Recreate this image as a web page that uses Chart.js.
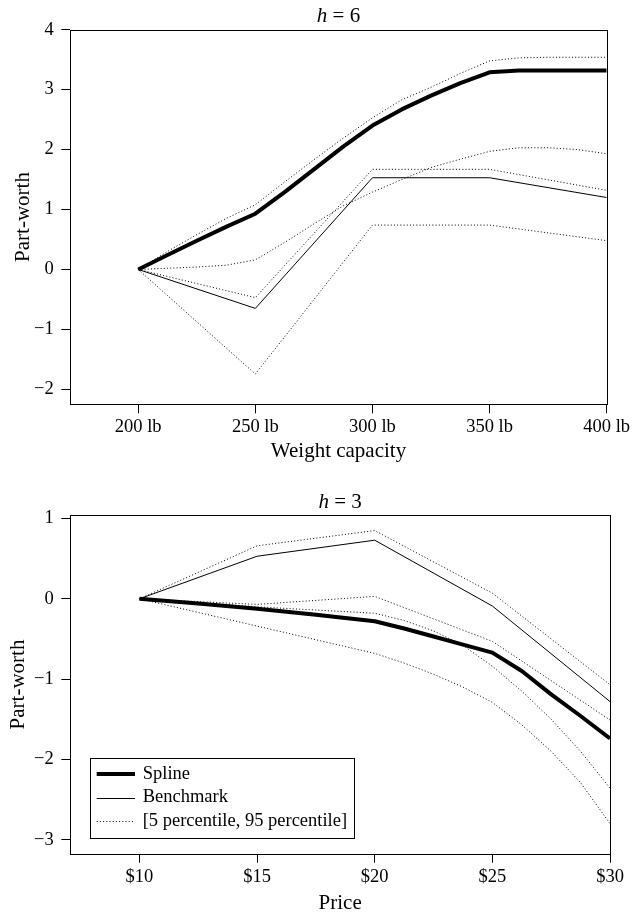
<!DOCTYPE html>
<html><head><meta charset="utf-8">
<script src="https://cdn.jsdelivr.net/npm/chart.js@4.4.1/dist/chart.umd.min.js"></script>
<style>
html,body{margin:0;padding:0;background:#fff;overflow:hidden;width:640px;height:913px;}
.box{position:absolute;left:0;width:640px;height:480px;}
#w1{top:0;}
#w2{top:440px;}
</style></head><body>
<div class="box" id="w1"><canvas id="c1"></canvas></div>
<div class="box" id="w2"><canvas id="c2"></canvas></div>
<script>
// ---------- data: top panel (h = 6, weight capacity) ----------
const weightTicks = [200, 250, 300, 350, 400];
const weightYTicks = [-2, -1, 0, 1, 2, 3, 4];
const weightGrid = [200, 212.5, 225, 237.5, 250, 262.5, 275, 287.5, 300, 312.5, 325, 337.5, 350, 362.5, 375, 387.5, 400];
const weightSpline   = [0, 0.24, 0.48, 0.71, 0.93, 1.29, 1.67, 2.05, 2.40, 2.67, 2.90, 3.11, 3.29, 3.32, 3.32, 3.32, 3.32];
const weightSplineHi = [0, 0.30, 0.58, 0.85, 1.08, 1.46, 1.83, 2.19, 2.53, 2.83, 3.04, 3.27, 3.48, 3.53, 3.54, 3.54, 3.54];
const weightSplineLo = [0, 0.02, 0.04, 0.07, 0.16, 0.45, 0.76, 1.06, 1.29, 1.50, 1.70, 1.84, 1.97, 2.03, 2.03, 2.00, 1.93];
const weightBench   = [0, -0.65, 1.53, 1.53, 1.20];
const weightBenchHi = [0, -0.47, 1.67, 1.67, 1.32];
const weightBenchLo = [0, -1.745, 0.74, 0.74, 0.48];

// ---------- data: bottom panel (h = 3, price) ----------
const priceTicks = [10, 15, 20, 25, 30];
const priceYTicks = [-3, -2, -1, 0, 1];
const priceGrid = [10, 12.5, 15, 17.5, 20, 21.25, 22.5, 23.75, 25, 26.25, 27.5, 28.75, 30];
const priceSpline   = [0, -0.06, -0.125, -0.20, -0.28, -0.37, -0.47, -0.57, -0.67, -0.90, -1.19, -1.46, -1.74];
const priceSplineHi = [0, -0.05, -0.10, -0.14, -0.18, -0.27, -0.40, -0.58, -0.84, -1.15, -1.50, -1.90, -2.36];
const priceSplineLo = [0, -0.17, -0.34, -0.51, -0.68, -0.80, -0.94, -1.10, -1.29, -1.57, -1.90, -2.29, -2.80];
const priceBench   = [0, 0.53, 0.73, -0.09, -1.28];
const priceBenchHi = [0, 0.66, 0.85, 0.07, -1.07];
const priceBenchLo = [0, -0.07, 0.03, -0.53, -1.51];

const legendLabels = ['Spline', 'Benchmark', '[5 percentile, 95 percentile]'];

// ---------- rendering ----------
const FONT = "'Liberation Serif','Times New Roman',serif";
Chart.defaults.font.family = FONT;
Chart.defaults.color = '#000';

function pts(xs, ys) { return xs.map((x, i) => ({x: x, y: ys[i]})); }
function minusFmt(v) { return v < 0 ? '\u2212' + Math.abs(v) : String(v); }
const DOT = [1, 2.2];

function lineDs(label, data, width, dash, order) {
  return {label, data, borderColor: '#000', borderWidth: width, borderDash: dash,
    pointRadius: 0, tension: 0, fill: false, order,
    borderJoinStyle: width > 2 ? 'round' : 'miter', borderCapStyle: 'butt'};
}

const framePlugin = {
  id: 'frameTitle',
  afterDraw(chart, args, o) {
    const {ctx, chartArea: a} = chart;
    ctx.save();
    ctx.strokeStyle = '#000'; ctx.lineWidth = 1;
    const l = Math.round(a.left) + 0.5, t = Math.round(a.top) + 0.5;
    const r = Math.round(a.right) + 0.5, b = Math.round(a.bottom) + 0.5;
    ctx.strokeRect(l, t, r - l, b - t);
    ctx.fillStyle = '#000';
    ctx.textBaseline = 'alphabetic';
    const it = 'italic 21px ' + FONT, rg = '21px ' + FONT;
    ctx.font = it; const w1 = ctx.measureText(o.italic).width;
    ctx.font = rg; const w2 = ctx.measureText(o.rest).width;
    const x = (a.left + a.right) / 2 - (w1 + w2) / 2;
    ctx.font = it; ctx.fillText(o.italic, x, o.y);
    ctx.font = rg; ctx.fillText(o.rest, x + w1, o.y);
    if (o.legend) {
      const L = o.legend;
      ctx.strokeRect(L.left + 0.5, L.top + 0.5, L.right - L.left, L.bottom - L.top);
      ctx.font = '18.5px ' + FONT;
      ctx.textBaseline = 'middle';
      const widths = [4, 1, 1], dashes = [[], [], DOT];
      legendLabels.forEach((txt, i) => {
        const y = L.rows[i];
        ctx.beginPath();
        ctx.lineWidth = widths[i];
        ctx.setLineDash(dashes[i]);
        const yy = widths[i] % 2 ? Math.round(y) + 0.5 : Math.round(y);
        ctx.moveTo(L.sx0, yy); ctx.lineTo(L.sx1, yy);
        ctx.stroke();
        ctx.setLineDash([]);
        ctx.fillText(txt, L.tx, y);
      });
    }
    ctx.restore();
  }
};

function axisCfg(min, max, ticks, fmt, size, titleText, titlePad, isX) {
  const c = {
    type: 'linear', min: min, max: max,
    border: {display: false},
    grid: {drawOnChartArea: false, drawTicks: true, tickLength: 9, color: '#000', tickColor: '#000', tickWidth: 1},
    ticks: {padding: isX ? 3 : 7.5, font: {size: 18.5}, color: '#000', maxRotation: 0, autoSkip: false, callback: fmt},
    afterBuildTicks: s => { s.ticks = ticks.map(v => ({value: v})); },
    title: {display: true, text: titleText, font: {size: 21}, color: '#000', padding: titlePad}
  };
  if (isX) c.afterFit = s => { s.height = size; s.paddingLeft = 0; s.paddingRight = 0; };
  else c.afterFit = s => { s.width = size; s.paddingTop = 0; s.paddingBottom = 0; };
  return c;
}

function makeChart(id, cfg) {
  return new Chart(document.getElementById(id), {
    type: 'line',
    data: {datasets: cfg.datasets},
    options: {
      responsive: true, maintainAspectRatio: false, animation: false, devicePixelRatio: 1,
      layout: {padding: cfg.padding},
      plugins: {legend: {display: false}, tooltip: {enabled: false}, frameTitle: cfg.frame},
      scales: {x: cfg.x, y: cfg.y}
    },
    plugins: [framePlugin]
  });
}

makeChart('c1', {
  datasets: [
    lineDs('Spline', pts(weightGrid, weightSpline), 4, [], 0),
    lineDs('Benchmark', pts(weightTicks, weightBench), 1, [], 1),
    lineDs('Spline 95', pts(weightGrid, weightSplineHi), 1, DOT, 2),
    lineDs('Spline 5', pts(weightGrid, weightSplineLo), 1, DOT, 2),
    lineDs('Benchmark 95', pts(weightTicks, weightBenchHi), 1, DOT, 2),
    lineDs('Benchmark 5', pts(weightTicks, weightBenchLo), 1, DOT, 2)
  ],
  padding: {top: 29.7, right: 33.3, bottom: 15.7, left: 0},
  frame: {italic: 'h', rest: ' = 6', y: 22},
  x: axisCfg(171, 400, weightTicks, v => v + ' lb', 60, 'Weight capacity', {top: 0, bottom: 0}, true),
  y: axisCfg(-2.25, 4, weightYTicks, minusFmt, 70.3, 'Part-worth', {top: 11, bottom: 0}, false)
});

makeChart('c2', {
  datasets: [
    lineDs('Spline', pts(priceGrid, priceSpline), 4, [], 0),
    lineDs('Benchmark', pts(priceTicks, priceBench), 1, [], 1),
    lineDs('Spline 95', pts(priceGrid, priceSplineHi), 1, DOT, 2),
    lineDs('Spline 5', pts(priceGrid, priceSplineLo), 1, DOT, 2),
    lineDs('Benchmark 95', pts(priceTicks, priceBenchHi), 1, DOT, 2),
    lineDs('Benchmark 5', pts(priceTicks, priceBenchLo), 1, DOT, 2)
  ],
  padding: {top: 75.3, right: 30, bottom: 4.4, left: 0},
  frame: {italic: 'h', rest: ' = 3', y: 68.3,
    legend: {left: 90, top: 318, right: 354, bottom: 398, sx0: 96.7, sx1: 135, tx: 142.7, rows: [334, 357.5, 381]}},
  x: axisCfg(7.06, 30, priceTicks, v => '$' + v, 61.9, 'Price', {top: 0, bottom: 0}, true),
  y: axisCfg(-3.175, 1.04, priceYTicks, minusFmt, 70.3, 'Part-worth', {top: 5.5, bottom: 0}, false)
});
</script>
</body></html>
